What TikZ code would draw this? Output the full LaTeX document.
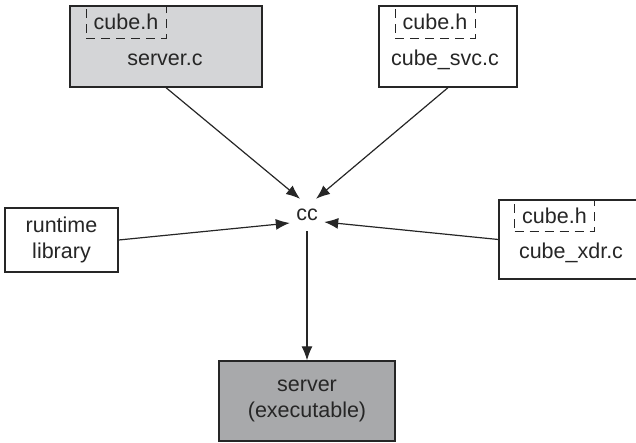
\documentclass[tikz,border=0pt]{standalone}
\usepackage{fontspec}
\setmainfont{Liberation Sans}
\usepackage{xcolor}
\definecolor{srcgray}{HTML}{D4D5D7}
\definecolor{exegray}{HTML}{A8A9AB}
\definecolor{ink}{HTML}{262626}
\usetikzlibrary{arrows.meta}

\begin{document}
\begin{tikzpicture}[x=1pt, y=-1pt, >={Latex[length=14pt,width=11pt]}, font=\fontsize{21.5}{26}\selectfont]
		\useasboundingbox (0,0) rectangle (636,442);
		\tikzstyle{every node} = [rectangle, inner sep=0pt, text=ink, draw=ink, line width=1.3pt]
		\tikzstyle{hdrbox} = [dashed, dash pattern=on 9pt off 6pt, line width=1pt, minimum width=80, minimum height=32]
		\node[fill=srcgray, minimum width=192, minimum height=81] (serverc) at (166,46.5) {};
		\node[fill=white, minimum width=138, minimum height=81] (svc) at (448,46.5) {};
		\node[fill=white, minimum width=113, minimum height=64, align=center] (runtime) at (61.5,240) {runtime\\library};
		\node[fill=white, minimum width=141, minimum height=79] (xdr) at (569.5,239.5) {};
		\node[fill=exegray, minimum width=176, minimum height=80, align=center] (exe) at (307,401) {server\\(executable)};

		\node[hdrbox] (serverh) at (126,22) {cube.h};
		\node[hdrbox] (svch) at (435,22) {cube.h};
		\node[hdrbox, minimum height=31] (xdrh) at (554.5,215.5) {cube.h};

		\tikzstyle{every node} = [draw=none, inner sep=0pt, text=ink]
		\node (serverlbl) at (165,60) {server.c};
		\node (svclbl) at (445,60) {cube\_svc.c};
		\node (xdrlbl) at (571,253) {cube\_xdr.c};
		\node[minimum width=34, minimum height=32] (cc) at (307,215) {cc};

		\draw [->, ink, line width=1.2pt] (serverc.south) -- ([xshift=-7pt]cc.north);
		\draw [->, ink, line width=1.2pt] (svc.south) -- ([xshift=9pt]cc.north);
		\draw [->, ink, line width=1.2pt] (runtime.east) -- ([yshift=-8pt]cc.west);
		\draw [->, ink, line width=1.2pt] (xdr.west) -- ([yshift=-7pt]cc.east);
		\draw [->, ink, line width=1.2pt] (cc.south) -- (exe.north);
\end{tikzpicture}
\end{document}
